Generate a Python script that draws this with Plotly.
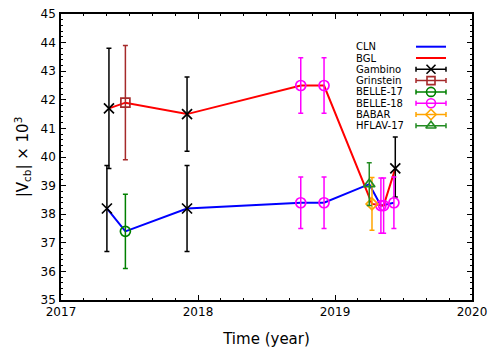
import plotly.graph_objects as go

# ---------------- data ----------------
cln_t = [2017.335, 2017.47, 2017.92, 2018.75, 2018.92, 2019.25, 2019.335, 2019.43]
cln_v = [38.2, 37.4, 38.2, 38.4, 38.4, 39.05, 38.3, 38.4]

bgl_t = [2017.35, 2017.47, 2017.92, 2018.75, 2018.92, 2019.27, 2019.355, 2019.44]
bgl_v = [41.7, 41.9, 41.5, 42.5, 42.5, 38.36, 38.3, 39.6]

gambino_t = [2017.35, 2017.335, 2017.92, 2017.92, 2019.44]
gambino_v = [41.7, 38.2, 41.5, 38.2, 39.6]
gambino_up = [2.1, 1.5, 1.3, 1.5, 1.1]
gambino_dn = [2.1, 1.5, 1.3, 1.5, 1.0]

grinstein_t = [2017.47]
grinstein_v = [41.9]
grinstein_up = [2.0]
grinstein_dn = [2.0]

belle17_t = [2017.47]
belle17_v = [37.4]
belle17_up = [1.3]
belle17_dn = [1.3]

belle18_t = [2018.75, 2018.92, 2018.75, 2018.92, 2019.335, 2019.355, 2019.43]
belle18_v = [42.5, 42.5, 38.4, 38.4, 38.3, 38.3, 38.4]
belle18_up = [0.97, 0.97, 0.9, 0.9, 0.97, 0.97, 0.9]
belle18_dn = [0.97, 0.97, 0.9, 0.9, 0.97, 0.97, 0.9]

babar_t = [2019.27]
babar_v = [38.36]
babar_up = [0.92]
babar_dn = [0.92]

hflav_t = [2019.25]
hflav_v = [39.05]
hflav_up = [0.75]
hflav_dn = [0.75]

x_ticks = [2017, 2018, 2019, 2020]
y_ticks = list(range(35, 46))

# ---------------- styling ----------------
FONT = "DejaVu Sans"
series = [
    ("Gambino", gambino_t, gambino_v, gambino_up, gambino_dn, "black", "x-thin-open", 10),
    ("Grinstein", grinstein_t, grinstein_v, grinstein_up, grinstein_dn, "#a52a2a", "square-open", 9),
    ("BELLE-17", belle17_t, belle17_v, belle17_up, belle17_dn, "#008000", "circle-open", 10),
    ("BELLE-18", belle18_t, belle18_v, belle18_up, belle18_dn, "#ff00ff", "circle-open", 10),
    ("BABAR", babar_t, babar_v, babar_up, babar_dn, "#ffa500", "diamond-open", 9),
    ("HFLAV-17", hflav_t, hflav_v, hflav_up, hflav_dn, "#228b22", "triangle-up-open", 10),
]

fig = go.Figure()

fig.add_trace(go.Scatter(x=cln_t, y=cln_v, mode="lines", name="CLN",
                         line=dict(color="#0000ff", width=2), showlegend=False))
fig.add_trace(go.Scatter(x=bgl_t, y=bgl_v, mode="lines", name="BGL",
                         line=dict(color="#ff0000", width=2), showlegend=False))

for name, t, v, up, dn, col, sym, sz in series:
    fig.add_trace(go.Scatter(
        x=t, y=v, mode="markers", name=name, showlegend=False,
        marker=dict(symbol=sym, size=sz, color=col, line=dict(color=col, width=1.7)),
        error_y=dict(type="data", symmetric=False, array=up, arrayminus=dn,
                     color=col, thickness=1.5, width=2.5),
    ))

# ---------------- custom legend (labels left, symbols right) ----------------
legend_entries = [("CLN", "#0000ff", None, 0), ("BGL", "#ff0000", None, 0)] + \
    [(s[0], s[5], s[6], s[7]) for s in series]

W, H = 492, 348
L, T, R, B = 61, 14, 20, 48
PX0, PX1, PY0, PY1 = L, W - R, T, H - B  # plot area in pixels

def px_to_paper_x(px):
    return (px - PX0) / (PX1 - PX0)

def py_to_paper_y(py):
    return (PY1 - py) / (PY1 - PY0)

row0, row_step = 46.7, 11.3
sym_x0, sym_x1 = 416, 446
annotations = []
for i, (name, col, sym, sz) in enumerate(legend_entries):
    yy = py_to_paper_y(row0 + i * row_step)
    xa, xb = px_to_paper_x(sym_x0), px_to_paper_x(sym_x1)
    if sym is None:
        fig.add_trace(go.Scatter(x=[xa, xb], y=[yy, yy], mode="lines", xaxis="x2", yaxis="y2",
                                 line=dict(color=col, width=2), showlegend=False, hoverinfo="skip"))
    else:
        xc = (xa + xb) / 2
        fig.add_trace(go.Scatter(
            x=[xc], y=[yy], mode="markers", xaxis="x2", yaxis="y2", showlegend=False, hoverinfo="skip",
            marker=dict(symbol=sym, size=sz - 1, color=col, line=dict(color=col, width=1.6)),
            error_x=dict(type="constant", value=(xb - xa) / 2, color=col, thickness=1.5, width=2.5)))
    annotations.append(dict(x=px_to_paper_x(354), y=yy, xref="paper", yref="paper",
                            text=name, showarrow=False, xanchor="left", yanchor="middle",
                            font=dict(family=FONT, size=10, color="black")))

axis_common = dict(showline=True, linecolor="black", linewidth=1.5, mirror="allticks",
                   ticks="inside", ticklen=5, tickwidth=1.2, tickcolor="black",
                   showgrid=False, zeroline=False, automargin=False,
                   ticklabeloverflow="allow",
                   tickfont=dict(family=FONT, size=12, color="black"))

fig.update_layout(
    width=W, height=H,
    margin=dict(l=L, r=R, t=T, b=B, autoexpand=False),
    paper_bgcolor="white", plot_bgcolor="white",
    font=dict(family=FONT, color="black"),
    annotations=annotations,
    xaxis=dict(range=[2017, 2020], tickvals=x_ticks, ticktext=[str(v) for v in x_ticks],
               title=dict(text="Time (year)", font=dict(family=FONT, size=15), standoff=17),
               minor=dict(ticks="inside", ticklen=2.5, dtick=1/6, tick0=2017, tickcolor="black"),
               ticklabelstandoff=0,
               **axis_common),
    yaxis=dict(range=[35, 45], tickvals=y_ticks, ticktext=[str(v) for v in y_ticks],
               title=dict(text="|V<sub>cb</sub>| × 10<sup>3</sup>", font=dict(family=FONT, size=15), standoff=8),
               minor=dict(ticks="inside", ticklen=2.5, dtick=0.2, tick0=35, tickcolor="black"),
               ticklabelstandoff=1,
               **axis_common),
    xaxis2=dict(overlaying="x", range=[0, 1], visible=False, fixedrange=True, automargin=False),
    yaxis2=dict(overlaying="y", range=[0, 1], visible=False, fixedrange=True, automargin=False),
)

# remove the browser's default 8px page margin so the figure fills the window exactly
fig.write_html("out.html",
               config={"displayModeBar": False},
               post_script="document.body.style.margin='0';document.body.style.overflow='hidden';")
